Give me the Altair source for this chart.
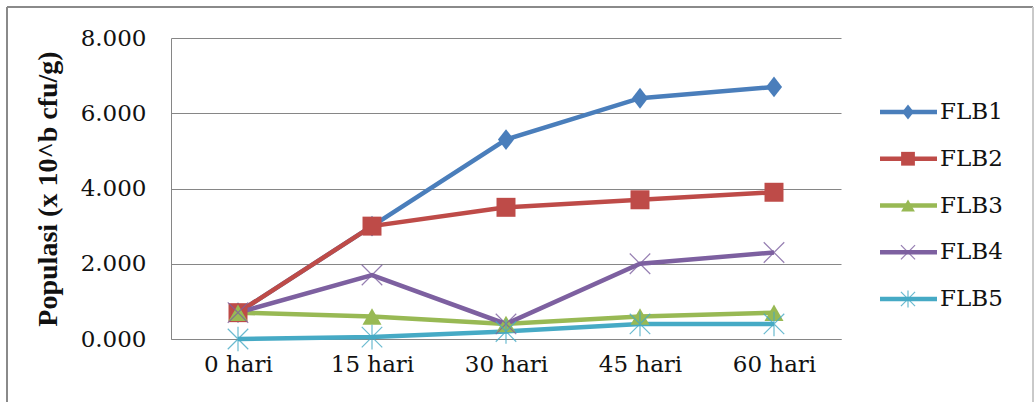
import altair as alt
import pandas as pd

# Bacterial population per isolate over storage time
days = ["0 hari", "15 hari", "30 hari", "45 hari", "60 hari"]
series_names = ["FLB1", "FLB2", "FLB3", "FLB4", "FLB5"]
flb1 = [0.7, 3.0, 5.3, 6.4, 6.7]
flb2 = [0.7, 3.0, 3.5, 3.7, 3.9]
flb3 = [0.7, 0.6, 0.4, 0.6, 0.7]
flb4 = [0.7, 1.7, 0.4, 2.0, 2.3]
flb5 = [0.0, 0.05, 0.2, 0.4, 0.4]

colors = ["#4A7EBB", "#BE4B48", "#98B954", "#7D60A0", "#46AAC5"]
x_path = "M-1,-1L1,1M-1,1L1,-1"
star_path = "M-1,-1L1,1M-1,1L1,-1M0,-1.2L0,1.2"
diamond_path = "M0,-1.1L0.85,0L0,1.1L-0.85,0Z"
shapes = [diamond_path, "square", "triangle-up", x_path, star_path]

rows = []
for name, vals in zip(series_names, [flb1, flb2, flb3, flb4, flb5]):
    for d, v in zip(days, vals):
        rows.append({"hari": d, "series": name, "nilai": v})
df = pd.DataFrame(rows)
legend_df = pd.DataFrame({"series": series_names, "row": list(range(len(series_names)))})

W, H = 670, 301
FONT = "DejaVu Serif"
GRID = "#868686"

color_enc = alt.Color("series:N", scale=alt.Scale(domain=series_names, range=colors), legend=None)
shape_enc = alt.Shape("series:N", scale=alt.Scale(domain=series_names, range=shapes), legend=None)
filled_set = ["FLB1", "FLB2", "FLB3"]
stroked_set = ["FLB4", "FLB5"]

x_enc = alt.X(
    "hari:N",
    sort=days,
    scale=alt.Scale(padding=0.5),
    axis=alt.Axis(
        title=None, labelAngle=0, labelFont=FONT, labelFontSize=23, labelColor="#111",
        labelPadding=14, ticks=False, tickSize=0, domainColor=GRID, grid=False,
    ),
)
y_enc = alt.Y(
    "nilai:Q",
    scale=alt.Scale(domain=[0, 8], nice=False),
    axis=alt.Axis(
        values=[0, 2, 4, 6, 8], format=".3f", labelFont=FONT, labelFontSize=23,
        labelColor="#111", labelPadding=25, ticks=False, tickSize=0,
        domainColor=GRID, gridColor=GRID, gridWidth=1,
        title="Populasi (x 10^b cfu/g)", titleFont="Liberation Serif",
        titleFontSize=28, titleFontWeight="bold", titleColor="#111",
        titleX=-123, titleY=H / 2, titleAngle=270, titleAlign="center",
        titleBaseline="middle",
    ),
)

base = alt.Chart(df)
lines = base.mark_line(strokeWidth=4.5).encode(
    x=x_enc, y=y_enc, color=color_enc, detail="series:N",
    order=alt.Order("hari:N"),
)
pts_filled = base.transform_filter(
    alt.FieldOneOfPredicate(field="series", oneOf=filled_set)
).mark_point(filled=True, size=360, opacity=1).encode(
    x=alt.X("hari:N", sort=days), y="nilai:Q", color=color_enc, shape=shape_enc
)
pts_stroked = base.transform_filter(
    alt.FieldOneOfPredicate(field="series", oneOf=stroked_set)
).mark_point(filled=False, size=420, strokeWidth=1.2, opacity=0.8).encode(
    x=alt.X("hari:N", sort=days), y="nilai:Q", color=color_enc, shape=shape_enc
)
plot = alt.layer(lines, pts_filled, pts_stroked)

# Legend drawn as line + marker + label rows beside the plot
leg_y = alt.Y("row:Q", scale=alt.Scale(domain=[0, 4], range=[74, 261], nice=False), axis=None)
leg_base = alt.Chart(legend_df)
leg_line = leg_base.mark_rule(strokeWidth=4.5).encode(
    x=alt.value(709), x2=alt.value(766), y=leg_y, color=color_enc
)
leg_pf = leg_base.transform_filter(
    alt.FieldOneOfPredicate(field="series", oneOf=filled_set)
).mark_point(filled=True, size=190, opacity=1).encode(
    x=alt.value(737), y=leg_y, color=color_enc, shape=shape_enc
)
leg_ps = leg_base.transform_filter(
    alt.FieldOneOfPredicate(field="series", oneOf=stroked_set)
).mark_point(filled=False, size=200, strokeWidth=1.2, opacity=0.8).encode(
    x=alt.value(737), y=leg_y, color=color_enc, shape=shape_enc
)
leg_text = leg_base.mark_text(
    align="left", baseline="middle", font=FONT, fontSize=23, color="#111"
).encode(x=alt.value(769), y=leg_y, text="series:N")
legend = alt.layer(leg_line, leg_pf, leg_ps, leg_text)

# Frame around the chart area
frame_top = alt.Chart(legend_df).mark_rule(color="#8a8a8a", strokeWidth=2).encode(
    x=alt.value(-164), x2=alt.value(862), y=alt.value(-31)
)
frame_left = alt.Chart(legend_df).mark_rule(color="#8a8a8a", strokeWidth=1.5).encode(
    x=alt.value(-164), y=alt.value(-31), y2=alt.value(364)
)
frame_right = alt.Chart(legend_df).mark_rule(color="#c8c8c8", strokeWidth=1).encode(
    x=alt.value(862), y=alt.value(-31), y2=alt.value(364)
)

chart = alt.layer(plot, legend, frame_top, frame_left, frame_right).resolve_scale(
    y="independent"
).properties(
    width=W, height=H,
    autosize=alt.AutoSizeParams(type="none"),
    padding={"left": 171, "top": 38, "right": 193, "bottom": 63},
    background="white",
).configure_view(stroke=None)

chart.save("out.html", embed_options={"renderer": "svg", "actions": False})
